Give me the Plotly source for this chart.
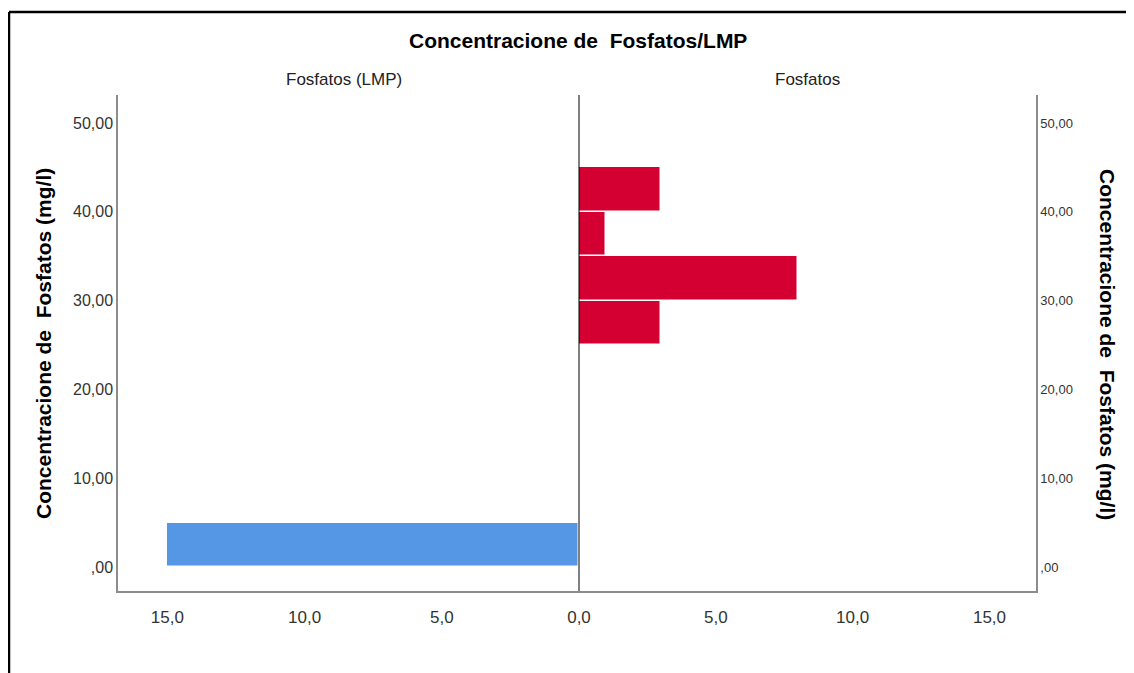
import plotly.graph_objects as go

# Data
bin_starts = [0, 5, 10, 15, 20, 25, 30, 35, 40, 45]
bin_width = 5
lmp_counts = [15, 0, 0, 0, 0, 0, 0, 0, 0, 0]
fosfatos_counts = [0, 0, 0, 0, 0, 3, 8, 1, 3, 0]
y_tickvals = [0, 10, 20, 30, 40, 50]
y_ticktext = [",00", "10,00", "20,00", "30,00", "40,00", "50,00"]
x_tickvals_left = [0, 5, 10, 15]
x_ticktext_left = ["0,0", "5,0", "10,0", "15,0"]
x_tickvals_right = [5, 10, 15]
x_ticktext_right = ["5,0", "10,0", "15,0"]

centers = [b + bin_width / 2 for b in bin_starts]

fig = go.Figure()
fig.add_trace(go.Bar(
    x=lmp_counts, y=centers, width=bin_width, orientation="h",
    xaxis="x", yaxis="y", name="Fosfatos (LMP)",
    marker=dict(color="#5597E4", line=dict(color="white", width=1.5)),
    showlegend=False,
))
fig.add_trace(go.Bar(
    x=fosfatos_counts, y=centers, width=bin_width, orientation="h",
    xaxis="x2", yaxis="y2", name="Fosfatos",
    marker=dict(color="#D50032", line=dict(color="white", width=1.5)),
    showlegend=False,
))

O = 8  # page body margin offset
W, H = 1134 - O, 673 - O
L, R, T, B = 118 - O, 1036 - O, 95 - O, 591 - O
pw, ph = R - L, B - T

def px(x):
    return (x - O - L) / pw

def py(y):
    return (B - (y - O)) / ph

split = px(579)
FONT = "Liberation Sans, Arial"
ytickfont = dict(family=FONT, size=16, color="#333333")
xtickfont = dict(family=FONT, size=17, color="#333333")
yrange = [-2.7, 53.15]

fig.update_layout(
    width=W, height=H,
    margin=dict(l=L, r=W - R, t=T, b=H - B, autoexpand=False),
    paper_bgcolor="white", plot_bgcolor="white",
    bargap=0,
    xaxis=dict(domain=[0, split], range=[16.8, 0], tickvals=x_tickvals_left, ticktext=x_ticktext_left,
               showgrid=False, zeroline=False, showline=True, linecolor="#8c8c8c", linewidth=1.5,
               tickfont=xtickfont, ticks="", ticklabelstandoff=10, anchor="y"),
    xaxis2=dict(domain=[split, 1], range=[0, 16.7], tickvals=x_tickvals_right, ticktext=x_ticktext_right,
                showgrid=False, zeroline=False, showline=True, linecolor="#8c8c8c", linewidth=1.5,
                tickfont=xtickfont, ticks="", ticklabelstandoff=10, anchor="y2"),
    yaxis=dict(range=yrange, tickvals=y_tickvals, ticktext=y_ticktext, showgrid=False,
               zeroline=False, showline=True, linecolor="#8c8c8c", linewidth=1.5,
               tickfont=ytickfont, ticks="", anchor="x", side="left"),
    yaxis2=dict(range=yrange, tickvals=y_tickvals, ticktext=y_ticktext, showgrid=False,
                zeroline=False, showline=True, linecolor="#8c8c8c", linewidth=1.5,
                tickfont=dict(family=FONT, size=13, color="#333333"),
                ticks="", anchor="x2", side="right", overlaying="y", matches="y"),
    font=dict(family=FONT, color="#000000"),
)

# center line
fig.add_shape(type="line", xref="paper", yref="paper", x0=split, x1=split, y0=0, y1=1,
              line=dict(color="black", width=1))
# outer frame
fig.add_shape(type="line", xref="paper", yref="paper", x0=px(9), x1=px(1134), y0=py(12), y1=py(12),
              line=dict(color="black", width=2.5))
fig.add_shape(type="line", xref="paper", yref="paper", x0=px(9), x1=px(9), y0=py(12), y1=py(673),
              line=dict(color="black", width=2.5))

# title
fig.add_annotation(text="<b>Concentracione de  Fosfatos/LMP</b>", xref="paper", yref="paper",
                   x=px(578), y=py(40), showarrow=False, xanchor="center", yanchor="middle",
                   font=dict(size=21, family=FONT, color="black"))
# panel headers
fig.add_annotation(text="Fosfatos (LMP)", xref="paper", yref="paper", x=px(344), y=py(80),
                   showarrow=False, xanchor="center", yanchor="middle",
                   font=dict(size=17, family=FONT, color="#222222"))
fig.add_annotation(text="Fosfatos", xref="paper", yref="paper", x=px(807), y=py(80),
                   showarrow=False, xanchor="center", yanchor="middle",
                   font=dict(size=17, family=FONT, color="#222222"))
# axis titles
fig.add_annotation(text="<b>Concentracione de  Fosfatos (mg/l)</b>", xref="paper", yref="paper",
                   x=px(43), y=py(344), showarrow=False, textangle=-90,
                   xanchor="center", yanchor="middle",
                   font=dict(size=21, family=FONT, color="black"))
fig.add_annotation(text="<b>Concentracione de  Fosfatos (mg/l)</b>", xref="paper", yref="paper",
                   x=px(1108), y=py(344), showarrow=False, textangle=90,
                   xanchor="center", yanchor="middle",
                   font=dict(size=21, family=FONT, color="black"))

fig.write_html("out.html")
